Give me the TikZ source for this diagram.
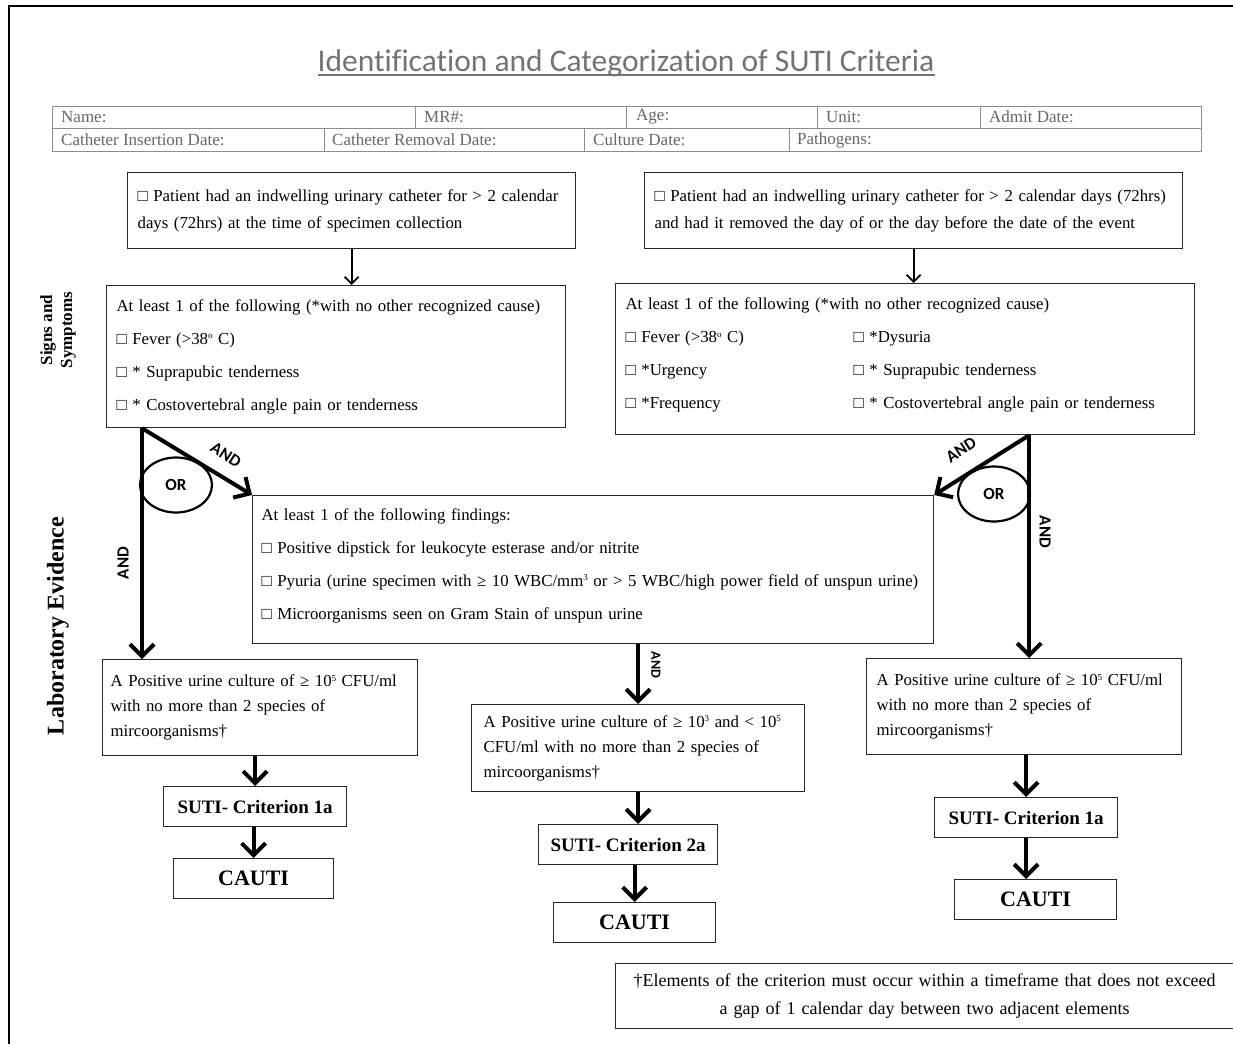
\documentclass[tikz,border=0pt]{standalone}
\usepackage{fontspec}
\setmainfont{Liberation Serif}
\newfontfamily\calfont[Ligatures=NoCommon]{Carlito}
\newcommand{\upnum}[1]{\raisebox{5.5pt}{\fontsize{9}{9}\selectfont #1}}
\usetikzlibrary{arrows.meta,shapes.geometric}

\begin{document}
\begin{tikzpicture}[
  x=1pt, y=-1pt,
  font=\fontsize{16.8}{19}\selectfont,
  box/.style={draw=black!85, line width=1.2pt, inner xsep=10pt, inner ysep=0pt, align=left, anchor=north west},
  result/.style={draw=black!85, line width=1.2pt, inner sep=0pt, anchor=north west, font=\bfseries\fontsize{19}{19}\selectfont},
  cauti/.style={result, font=\bfseries\fontsize{22}{22}\selectfont},
  thin arrow/.style={line width=1.8pt, -{Straight Barb[length=7pt,width=14pt]}},
  thick arrow/.style={line width=4pt, -{Straight Barb[length=12pt,width=24pt]}},
  logic/.style={font=\calfont\bfseries\fontsize{17}{17}\selectfont, inner sep=0pt},
  orbubble/.style={draw, ellipse, line width=2.2pt, minimum width=72pt, minimum height=55pt, logic},
  cell/.style={anchor=west, inner sep=0pt, text=black!60, font=\fontsize{17}{17}\selectfont},
  side/.style={rotate=90, align=center, inner sep=0pt, font=\bfseries\fontsize{17}{20}\selectfont}
]
\useasboundingbox (0,0) rectangle (1233,1044);
\draw[line width=2pt] (9,1044) -- (9,6) -- (1233,6);

% ---- title and form header ----
\node[inner sep=0pt, text=black!55, font=\calfont\fontsize{31.5}{31.5}\selectfont] (title) at (626,63) {Identification and Categorization of SUTI Criteria};
\draw[black!55, line width=1.5pt] ([yshift=-4pt]title.base west) -- ([yshift=-4pt]title.base east);

\draw[black!45, line width=1pt] (52,106) rectangle (1201,151) (52,128) -- (1201,128);
\foreach \x in {415,626,817,980} \draw[black!45, line width=1pt] (\x,106) -- (\x,128);
\foreach \x in {324,584,789} \draw[black!45, line width=1pt] (\x,128) -- (\x,151);
\foreach \x/\lab [count=\i] in {61/Name:, 424/MR\#:, 636/Age:, 826/Unit:, 989/Admit Date:}
  \node[cell] (top\i) at (\x,117) {\lab};
\foreach \x/\lab [count=\i] in {61/Catheter Insertion Date:, 332/Catheter Removal Date:, 593/Culture Date:, 797/Pathogens:}
  \node[cell] (bot\i) at (\x,140) {\lab};

% ---- side headings ----
\node[side] (signs) at (58,330) {Signs and\\Symptoms};
\node[side, font=\bfseries\fontsize{24}{24}\selectfont] (labev) at (58,626) {Laboratory Evidence};

% ---- catheter boxes ----
\node[box, text width=428pt, minimum height=76pt, font=\fontsize{16.8}{27}\selectfont] (cathnow) at (127,172)
  {□ Patient had an indwelling urinary catheter for > 2 calendar\\days (72hrs) at the time of specimen collection};
\node[box, text width=518pt, minimum height=76pt, font=\fontsize{16.8}{27}\selectfont] (cathout) at (644,172)
  {□ Patient had an indwelling urinary catheter for > 2 calendar days (72hrs)\\and had it removed the day of or the day before the date of the event};

% ---- signs and symptoms ----
\node[box, text width=439pt, minimum height=142pt, font=\fontsize{16.8}{33}\selectfont] (sympl) at (106,285)
  {At least 1 of the following (*with no other recognized cause)\\
   □ Fever (>38\upnum{o} C)\\
   □ * Suprapubic tenderness\\
   □ * Costovertebral angle pain or tenderness};
\node[box, text width=559pt, minimum height=151pt, font=\fontsize{16.8}{33}\selectfont] (sympr) at (615,283)
  {At least 1 of the following (*with no other recognized cause)\\
   \makebox[228pt][l]{□ Fever (>38\upnum{o} C)}□ *Dysuria\\
   \makebox[228pt][l]{□ *Urgency}□ * Suprapubic tenderness\\
   \makebox[228pt][l]{□ *Frequency}□ * Costovertebral angle pain or tenderness\\[-21pt]\mbox{}};

% ---- laboratory findings ----
\node[box, inner xsep=9pt, text width=663pt, minimum height=148pt, font=\fontsize{16.8}{33}\selectfont] (lab) at (252,495)
  {At least 1 of the following findings:\\
   □ Positive dipstick for leukocyte esterase and/or nitrite\\
   □ Pyuria (urine specimen with ≥ 10 WBC/mm\upnum{3} or > 5 WBC/high power field of unspun urine)\\
   □ Microorganisms seen on Gram Stain of unspun urine\\[-21pt]\mbox{}};

% ---- urine cultures ----
\node[box, inner xsep=8pt, text width=299pt, minimum height=96pt, font=\fontsize{16.8}{25}\selectfont] (cultl) at (102,659)
  {A Positive urine culture of ≥ 10\upnum{5} CFU/ml\\with no more than 2 species of\\mircoorganisms†};
\node[box, inner xsep=12pt, text width=309pt, minimum height=87pt, font=\fontsize{16.8}{25}\selectfont] (cultm) at (471,704)
  {A Positive urine culture of ≥ 10\upnum{3} and < 10\upnum{5}\\CFU/ml with no more than 2 species of\\mircoorganisms†};
\node[box, text width=295pt, minimum height=96pt, font=\fontsize{16.8}{25}\selectfont] (cultr) at (866,658)
  {A Positive urine culture of ≥ 10\upnum{5} CFU/ml\\with no more than 2 species of\\mircoorganisms†};

% ---- criteria and outcome ----
\node[result, minimum width=183pt, minimum height=40pt] (crit1) at (163,786) {SUTI- Criterion 1a};
\node[cauti, minimum width=160pt, minimum height=40pt] (cauti1) at (173,858) {CAUTI};
\node[result, minimum width=179pt, minimum height=40pt] (crit2) at (538,824) {SUTI- Criterion 2a};
\node[cauti, minimum width=162pt, minimum height=40pt] (cauti2) at (553,902) {CAUTI};
\node[result, minimum width=183pt, minimum height=40pt] (crit3) at (934,797) {SUTI- Criterion 1a};
\node[cauti, minimum width=162pt, minimum height=40pt] (cauti3) at (954,879) {CAUTI};

\node[box, inner xsep=6pt, text width=606pt, minimum height=65pt, align=center, font=\fontsize{18}{28}\selectfont] (note) at (615,963)
  {†Elements of the criterion must occur within a timeframe that does not exceed\\a gap of 1 calendar day between two adjacent elements};

% ---- connectors ----
\draw[thin arrow] (cathnow.south) -- (cathnow.south |- sympl.north);
\draw[thin arrow] (cathout.south) -- (cathout.south |- sympr.north);

\coordinate (lsplit) at ([xshift=36pt]sympl.south west);
\coordinate (rsplit) at ([xshift=-166pt]sympr.south east);

\node[orbubble] (orl) at (176,485) {OR};
\node[orbubble] (orr) at (994,494) {OR};

\draw[thick arrow] (lsplit) -- (lsplit |- cultl.north);
\draw[thick arrow] (lsplit) -- (lab.north west);
\draw[thick arrow] (rsplit) -- (rsplit |- cultr.north);
\draw[thick arrow] (rsplit) -- (lab.north east);
\draw[thick arrow] (cultm.north |- lab.south) -- (cultm.north);

\node[logic, rotate=90] (andl) at (123,563) {AND};
\node[logic, rotate=-33] (anddl) at (226,455) {AND};
\node[logic, rotate=33] (anddr) at (961,450) {AND};
\node[logic, rotate=-90] (andr) at (1045,532) {AND};
\node[logic, rotate=-90, font=\calfont\bfseries\fontsize{14}{14}\selectfont] (andm) at (656,665) {AND};

\draw[thick arrow] (cultl.south -| crit1.north) -- (crit1.north);
\draw[thick arrow] (crit1.south -| cauti1.north) -- (cauti1.north);
\draw[thick arrow] (cultm.south) -- (cultm.south |- crit2.north);
\draw[thick arrow] (crit2.south -| cauti2.north) -- (cauti2.north);
\draw[thick arrow] (cultr.south -| crit3.north) -- (crit3.north);
\draw[thick arrow] (crit3.south) -- (crit3.south |- cauti3.north);
\end{tikzpicture}
\end{document}
